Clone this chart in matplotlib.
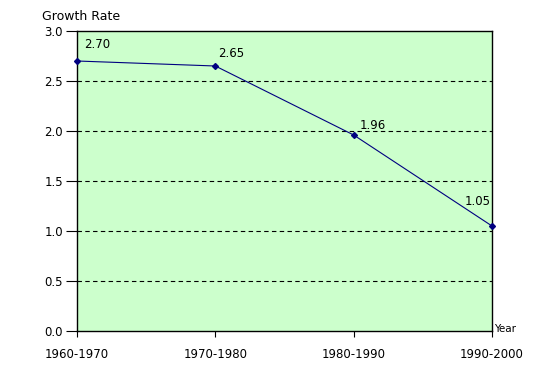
import matplotlib.pyplot as plt

periods = ["1960-1970", "1970-1980", "1980-1990", "1990-2000"]
growth = [2.70, 2.65, 1.96, 1.05]
yticks = [0.0, 0.5, 1.0, 1.5, 2.0, 2.5, 3.0]

plt.rcParams['font.family'] = 'DejaVu Sans'
plt.rcParams['font.size'] = 8.5

fig = plt.figure(figsize=(5.42, 3.72), dpi=100)
ax = fig.add_axes([77/542, 41/372, 415/542, 300/372])
ax.set_facecolor('#CCFFCC')

x = list(range(len(periods)))
ax.plot(x, growth, color='#000080', lw=0.8, marker='D', ms=3, zorder=3, clip_on=False)

# value labels
offsets = [(5, 7), (2, 4), (4, 2), (-1, 13)]
aligns = ['left', 'left', 'left', 'right']
for xi, v, off, ha in zip(x, growth, offsets, aligns):
    ax.annotate(f"{v:.2f}", (xi, v), xytext=off, textcoords='offset points',
                ha=ha, va='bottom', fontsize=8.5)

ax.set_xlim(0, 3)
ax.set_ylim(0, 3)
ax.set_xticks(x)
ax.set_xticklabels(periods)
ax.set_yticks(yticks)
ax.set_yticklabels([f"{t:.1f}" for t in yticks])
ax.tick_params(axis='y', direction='out', length=8, width=0.8, pad=2)
ax.tick_params(axis='x', direction='out', length=4, width=0.8, pad=8)

for t in yticks[1:-1]:
    ax.axhline(t, color='black', lw=0.8, ls=(0, (4, 3)), zorder=1)

for s in ax.spines.values():
    s.set_linewidth(1.0)

fig.text(42/542, 1 - 16/372, "Growth Rate", ha='left', va='center', fontsize=9)
fig.text(494/542, 1 - 329/372, "Year", ha='left', va='center', fontsize=7.5)

fig.savefig("out.png", dpi=100)
